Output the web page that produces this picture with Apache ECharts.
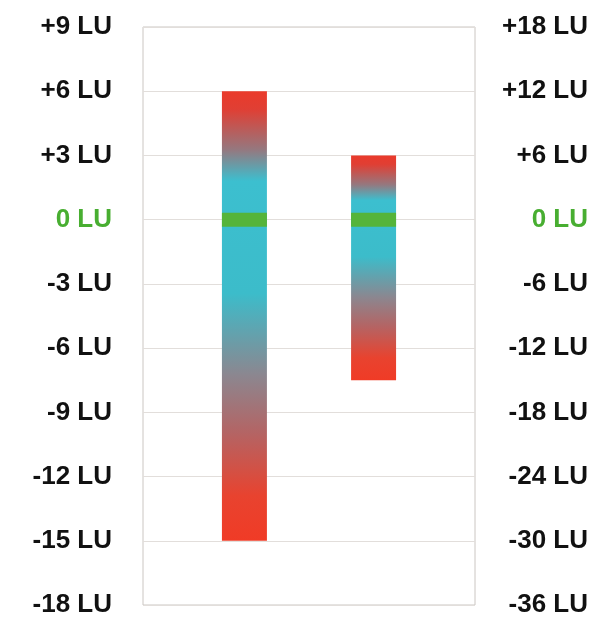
<!DOCTYPE html>
<html>
<head>
<meta charset="utf-8">
<script src="https://cdn.jsdelivr.net/npm/echarts@6/dist/echarts.min.js"></script>
<style>
html,body{margin:0;padding:0;background:#fff;}
#chart{width:593px;height:618px;}
</style>
</head>
<body>
<div id="chart"></div>
<script>
// ---- data ----
const meters = ['Short-term', 'Integrated'];
const rangeTop = [6, 6];        // LU on each meter's own axis
const rangeBottom = [-15, -15]; // LU on each meter's own axis
const targetLevel = [0, 0];     // green reference mark
const leftAxis = { min: -18, max: 9, interval: 3 };
const rightAxis = { min: -36, max: 18, interval: 6 };

const gradientStops = [
  { offset: 0.00, color: '#ea3a2b' },
  { offset: 0.04, color: '#e03f34' },
  { offset: 0.13, color: '#95787f' },
  { offset: 0.20, color: '#3cbfcf' },
  { offset: 0.45, color: '#3cbcca' },
  { offset: 0.63, color: '#8b8790' },
  { offset: 0.76, color: '#b46464' },
  { offset: 0.90, color: '#e8432f' },
  { offset: 1.00, color: '#f03b26' }
];

function fmt(v) {
  return (v > 0 ? '+' : '') + v + ' LU';
}
function labelColor(v) {
  return Number(v) === 0 ? '#48ae31' : '#111111';
}

function makeRender(shift) {
  return function (params, api) {
    const cat = api.value(0);
    const lo = api.coord([cat, api.value(1)]);
    const hi = api.coord([cat, api.value(2)]);
    const mid = api.coord([cat, api.value(3)]);
    const band = api.size([1, 0])[0];
    const w = band * 0.271;
    const cx = lo[0] + shift * band;
    return {
      type: 'group',
      children: [
        {
          type: 'rect',
          shape: { x: cx - w / 2, y: hi[1], width: w, height: lo[1] - hi[1] },
          style: { fill: new echarts.graphic.LinearGradient(0, 0, 0, 1, gradientStops) }
        },
        {
          type: 'rect',
          shape: { x: cx - w / 2, y: mid[1] - 7, width: w, height: 14 },
          style: { fill: '#55b43a' }
        }
      ]
    };
  };
}

const chart = echarts.init(document.getElementById('chart'), null, { renderer: 'canvas' });
const axisLabelBase = {
  fontFamily: '"Liberation Sans", Arial, sans-serif',
  fontWeight: 'bold',
  fontSize: 26,
  formatter: fmt,
  color: labelColor
};
chart.setOption({
  animation: false,
  grid: {
    left: 143, right: 118, top: 27, bottom: 11,
    show: true, borderColor: '#cbc6c2', borderWidth: 1
  },
  xAxis: {
    type: 'category',
    data: meters,
    axisLine: { show: false },
    axisTick: { show: false },
    axisLabel: { show: false }
  },
  yAxis: [
    {
      type: 'value',
      position: 'left',
      min: leftAxis.min, max: leftAxis.max, interval: leftAxis.interval,
      axisLine: { show: false },
      axisTick: { show: false },
      splitLine: { lineStyle: { color: '#e2dedb', width: 1 } },
      axisLabel: Object.assign({}, axisLabelBase, { margin: 31 })
    },
    {
      type: 'value',
      position: 'right',
      min: rightAxis.min, max: rightAxis.max, interval: rightAxis.interval,
      axisLine: { show: false },
      axisTick: { show: false },
      splitLine: { show: false },
      axisLabel: Object.assign({}, axisLabelBase, { margin: 113, align: 'right' })
    }
  ],
  series: [
    {
      type: 'custom',
      yAxisIndex: 0,
      renderItem: makeRender(0.111),
      encode: { x: 0, y: [1, 2, 3] },
      data: [[0, rangeBottom[0], rangeTop[0], targetLevel[0]]]
    },
    {
      type: 'custom',
      yAxisIndex: 1,
      renderItem: makeRender(-0.111),
      encode: { x: 0, y: [1, 2, 3] },
      data: [[1, rangeBottom[1], rangeTop[1], targetLevel[1]]]
    }
  ]
});
</script>
</body>
</html>
